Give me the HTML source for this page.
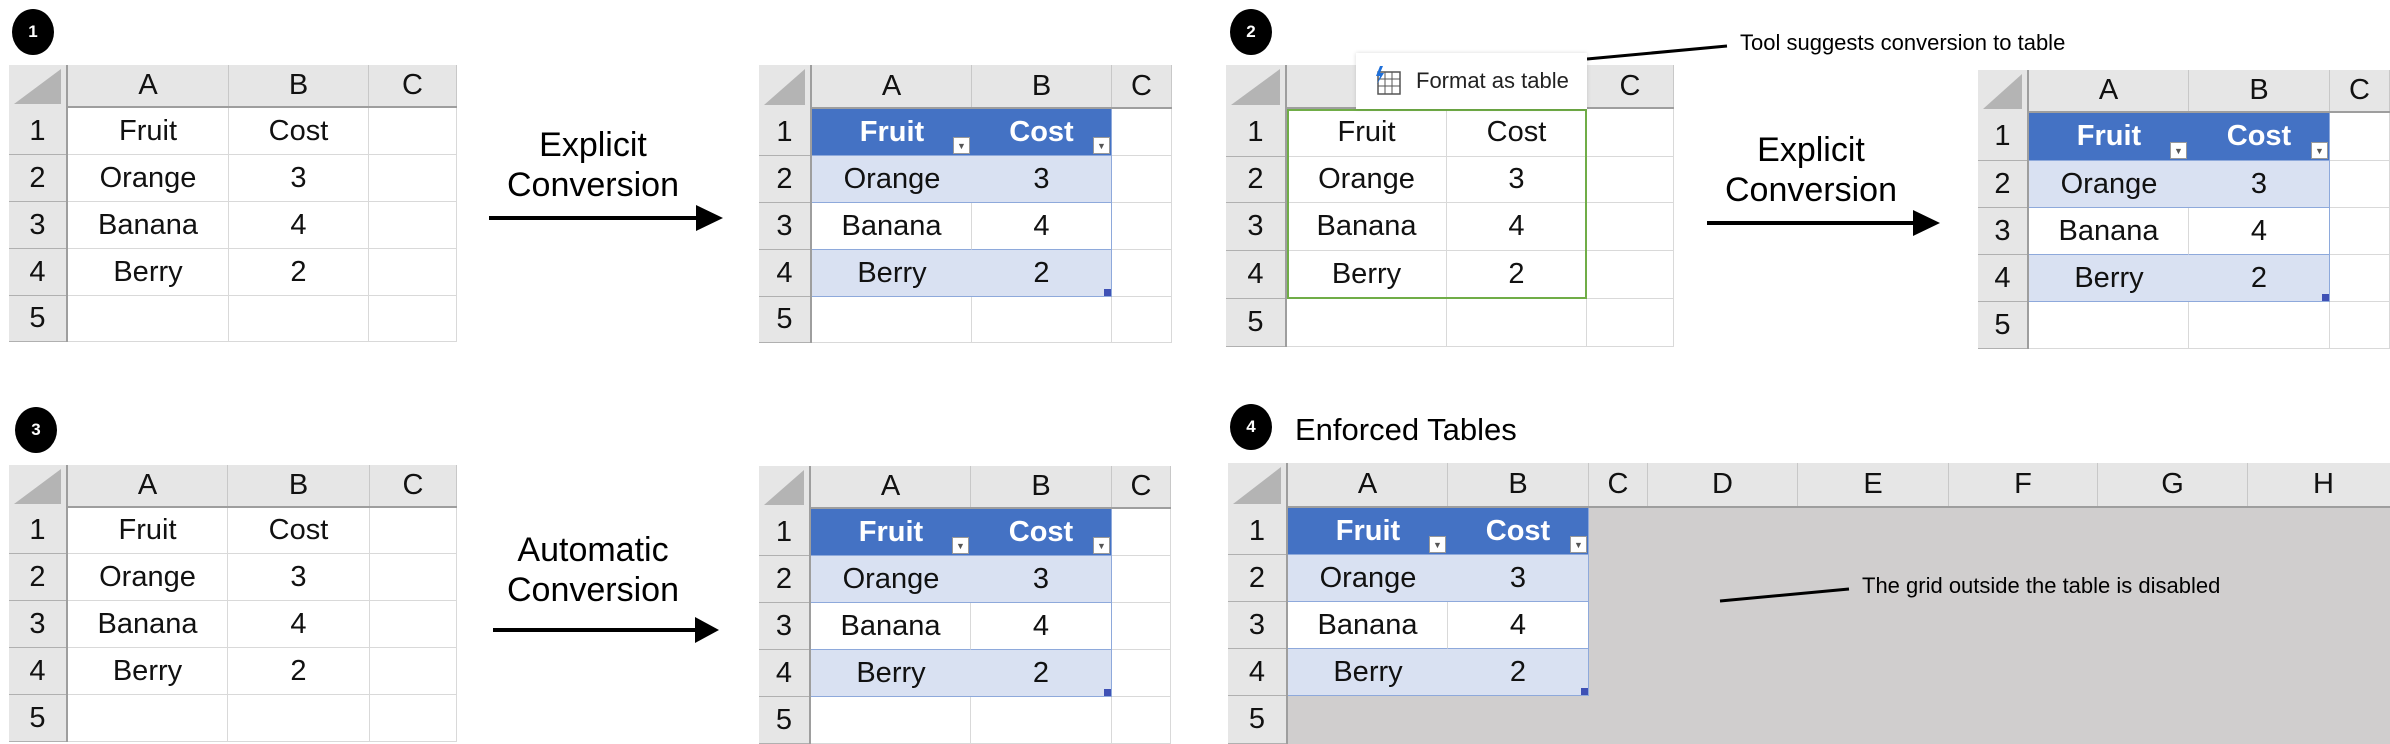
<!DOCTYPE html>
<html><head><meta charset="utf-8">
<style>
body{margin:0;width:2390px;height:744px;background:#fff;position:relative;overflow:hidden;font-family:"Liberation Sans",sans-serif;}
.a{position:absolute;box-sizing:border-box;}
.c{display:flex;align-items:center;justify-content:center;color:#111;font-size:29px;}
.badge{position:absolute;width:42px;height:46px;border-radius:50%;background:#000;color:#fff;font-weight:bold;font-size:17px;display:flex;align-items:center;justify-content:center;}
.lbl{position:absolute;font-size:34px;color:#000;text-align:center;width:300px;line-height:40px;}
</style></head><body>
<div class="badge" style="left:12px;top:9px">1</div>
<div class="badge" style="left:1230px;top:9px">2</div>
<div class="badge" style="left:15px;top:407px">3</div>
<div class="badge" style="left:1230px;top:404px">4</div>
<div class="a" style="left:1295px;top:410px;font-size:31px;line-height:40px">Enforced Tables</div>

<div class="lbl" style="left:443px;top:125px">Explicit<br>Conversion</div>
<div class="lbl" style="left:1661px;top:130px">Explicit<br>Conversion</div>
<div class="lbl" style="left:443px;top:530px">Automatic<br>Conversion</div>

<div id="root"></div>
<script>
var fruits=["Fruit","Orange","Banana","Berry"];
var costs=["Cost","3","4","2"];
function box(parent,x,y,w,h,css){var d=document.createElement('div');d.className='a';d.style.cssText='left:'+x+'px;top:'+y+'px;width:'+w+'px;height:'+h+'px;'+(css||'');parent.appendChild(d);return d;}
function grid(name,xs,ys,cols,mode){
 var g=document.createElement('div');
 
 
 document.body.appendChild(g);
 var W=xs[xs.length-1]-xs[0],H=ys[ys.length-1]-ys[0];
 box(g,xs[0],ys[0],W,H,'background:#fff;');
 if(mode=='enforced'){box(g,xs[1],ys[1],W-(xs[1]-xs[0]),H-(ys[1]-ys[0]),'background:#D0CECE;');}
 var hb=box(g,xs[0],ys[0],W,ys[1]-ys[0],'background:#E6E6E6;border-bottom:2px solid #9E9E9E;');
 var rb=box(g,xs[0],ys[0],xs[1]-xs[0],H,'background:#E6E6E6;border-right:2px solid #9E9E9E;');
 var tri=box(g,xs[0]+5,ys[0]+4,xs[1]-xs[0]-12,ys[1]-ys[0]-8,'background:#B4B4B4;clip-path:polygon(100% 0,100% 100%,0 100%);');
 
 
 for(var i=0;i<cols.length;i++){
  var hc=box(g,xs[i+1],ys[0],xs[i+2]-xs[i+1],ys[1]-ys[0]-2,'border-right:1px solid #C8C8C8;');hc.classList.add('c');hc.textContent=cols[i];
  
  
 }
 for(var r=1;r<ys.length-1;r++){
  var rc=box(g,xs[0],ys[r],xs[1]-xs[0]-2,ys[r+1]-ys[r],'border-bottom:1px solid #B0B0B0;');rc.classList.add('c');rc.textContent=r;
  
  
 }
 var gridc=(mode=='enforced')?'#D0CECE':'#D9D9D9';
 var isTable=(mode=='table'||mode=='enforced');
 for(var r=1;r<ys.length-1;r++)for(var i=1;i<xs.length-1;i++){
  var inTab=isTable&&r<=4&&i<=2;
  var bg='#fff',col='#111',fw='normal',bd='border-right:1px solid '+gridc+';border-bottom:1px solid '+gridc+';';
  if(mode=='enforced'&&!inTab){bg='#D0CECE';bd='';}
  if(inTab){bd='';if(r==1){bg='#4472C4';col='#fff';fw='bold';}else if(r%2==0){bg='#D9E1F2';}
   bd+='border-bottom:1px solid #8EA9DB;';
   if(r==3&&i==1)bd+='border-right:1px solid #D9D9D9;';
   if(i==2)bd+='border-right:1px solid #8EA9DB;';}
  var cell=box(g,xs[i],ys[r],xs[i+1]-xs[i],ys[r+1]-ys[r],'background:'+bg+';font-weight:'+fw+';'+bd);
  cell.classList.add('c');cell.style.color=col;
  if(r<=4&&i<=2)cell.textContent=(i==1?fruits[r-1]:costs[r-1]);
  
  
  if(inTab&&r==1){var dd=box(g,xs[i+1]-19,ys[r+1]-19,17,17,'background:#fff;border:1px solid #999;font-size:9px;color:#555;display:flex;align-items:center;justify-content:center;');dd.textContent='▼';
   
   }
  if(inTab&&r==4&&i==2){var h=box(g,xs[i+1]-8,ys[r+1]-8,7,7,'background:#3F51B5;');}
 }
 if(mode=='suggest'){var gb=box(g,xs[1],ys[1],xs[3]-xs[1],ys[5]-ys[1],'border:2px solid #70AD47;');}
 return g;
}
grid('sheet-1-before',[9,68,229,369,457],[65,108,155,202,249,296,342],['A','B','C'],'plain');
grid('sheet-1-after',[759,812,972,1112,1172],[65,109,156,203,250,297,343],['A','B','C'],'table');
grid('sheet-2-before',[1226,1287,1447,1587,1674],[65,109,157,203,251,299,347],['A','B','C'],'suggest');
grid('sheet-2-after',[1978,2029,2189,2330,2390],[70,113,161,208,255,302,349],['A','B','C'],'table');
grid('sheet-3-before',[9,68,228,370,457],[465,508,554,601,648,695,742],['A','B','C'],'plain');
grid('sheet-3-after',[759,811,971,1112,1171],[466,509,556,603,650,697,744],['A','B','C'],'table');
grid('sheet-4-enforced',[1228,1288,1448,1589,1648,1798,1949,2098,2248,2400],[463,508,555,602,649,696,744],['A','B','C','D','E','F','G','H'],'enforced');
</script>
<svg class="a" style="left:0;top:0;z-index:5" width="2390" height="744">
<g><line x1="489" y1="218" x2="700" y2="218" stroke="#000" stroke-width="4"/><polygon points="696,205 723,218 696,231"/></g>
<g><line x1="1707" y1="223" x2="1915" y2="223" stroke="#000" stroke-width="4"/><polygon points="1913,210 1940,223 1913,236"/></g>
<g><line x1="493" y1="630" x2="699" y2="630" stroke="#000" stroke-width="4"/><polygon points="695,617 719,630 695,643"/></g>
<line x1="1587" y1="59" x2="1727" y2="46" stroke="#000" stroke-width="3"/>
<line x1="1720" y1="601" x2="1849" y2="589" stroke="#000" stroke-width="3"/>
</svg>
<div class="a" style="left:1740px;top:29px;font-size:22px;line-height:28px;z-index:6">Tool suggests conversion to table</div>
<div class="a" style="left:1356px;top:53px;width:231px;height:56px;background:#fff;box-shadow:0 0 4px rgba(0,0,0,0.15);display:flex;align-items:center;font-size:22px;color:#222;z-index:6">
 <svg width="30" height="30" style="margin:0 12px 0 18px"><rect x="4" y="6" width="22" height="22" fill="none" stroke="#555" stroke-width="1.5"/><line x1="4" y1="13" x2="26" y2="13" stroke="#555"/><line x1="4" y1="20" x2="26" y2="20" stroke="#555"/><line x1="11" y1="6" x2="11" y2="28" stroke="#555"/><line x1="18" y1="6" x2="18" y2="28" stroke="#555"/><polygon points="6,0 2,10 6,10 3,18 10,7 6,7 9,0" fill="#1E6FD9"/></svg>
 <span>Format as table</span>
</div>
<div class="a" style="left:1862px;top:572px;font-size:22px;line-height:28px;color:#000;z-index:6">The grid outside the table is disabled</div>
</body></html>
